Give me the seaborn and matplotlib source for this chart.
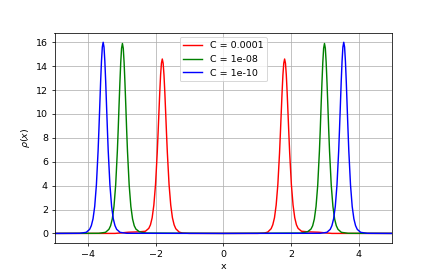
import matplotlib
matplotlib.use("Agg")
import matplotlib.pyplot as plt
import seaborn as sns
import pandas as pd

labels = ["C = 0.0001", "C = 1e-08", "C = 1e-10"]
colors = ["red", "green", "blue"]

red_x = [-5, -3.21, -3.01, -2.81, -2.51, -2.31, -2.21, -2.16, -2.11, -2.06, -2.01, -1.96, -1.935, -1.91,
         -1.885, -1.86, -1.835, -1.81, -1.785, -1.76, -1.735, -1.71, -1.685, -1.66, -1.61, -1.56, -1.51,
         -1.46, -1.41, -1.31, -1.21, -1.01,
         0, 1.01, 1.21, 1.31, 1.41, 1.46, 1.51, 1.56, 1.61, 1.66, 1.685, 1.71, 1.735, 1.76, 1.785, 1.81,
         1.835, 1.86, 1.885, 1.91, 1.935, 1.96, 2.01, 2.06, 2.11, 2.16, 2.21, 2.31, 2.51, 2.81, 3.01, 3.21, 5]
red_y = [0, 0, 0.05, 0.1, 0.13, 0.18, 0.42, 0.72, 1.31, 2.37, 4.1, 6.74, 8.37, 10.1,
         11.8, 13.27, 14.25, 14.6, 14.25, 13.27, 11.8, 10.1, 8.37, 6.74, 4.1, 2.37, 1.31,
         0.72, 0.39, 0.11, 0.03, 0,
         0, 0, 0.03, 0.11, 0.39, 0.72, 1.31, 2.37, 4.1, 6.74, 8.37, 10.1, 11.8, 13.27, 14.25, 14.6,
         14.25, 13.27, 11.8, 10.1, 8.37, 6.74, 4.1, 2.37, 1.31, 0.72, 0.42, 0.18, 0.13, 0.1, 0.05, 0, 0]

green_x = [-5, -3.69, -3.49, -3.39, -3.34, -3.29, -3.24, -3.19, -3.14, -3.115, -3.09, -3.065, -3.04, -3.015,
           -2.99, -2.965, -2.94, -2.915, -2.89, -2.865, -2.84, -2.79, -2.74, -2.69, -2.64, -2.59, -2.49,
           -2.39, -2.29,
           0, 2.29, 2.39, 2.49, 2.59, 2.64, 2.69, 2.74, 2.79, 2.84, 2.865, 2.89, 2.915, 2.94, 2.965, 2.99,
           3.015, 3.04, 3.065, 3.09, 3.115, 3.14, 3.19, 3.24, 3.29, 3.34, 3.39, 3.49, 3.69, 5]
green_y = [0, 0.01, 0.09, 0.34, 0.64, 1.21, 2.25, 4.04, 6.88, 8.68, 10.7, 12.6, 14.3, 15.5,
           15.9, 15.5, 14.3, 12.6, 10.7, 8.68, 6.88, 4.04, 2.25, 1.21, 0.64, 0.36, 0.14,
           0.08, 0.03,
           0, 0.03, 0.08, 0.14, 0.36, 0.64, 1.21, 2.25, 4.04, 6.88, 8.68, 10.7, 12.6, 14.3, 15.5, 15.9,
           15.5, 14.3, 12.6, 10.7, 8.68, 6.88, 4.04, 2.25, 1.21, 0.64, 0.34, 0.09, 0.01, 0]

blue_x = [-5, -4.26, -4.06, -3.96, -3.91, -3.86, -3.81, -3.76, -3.71, -3.685, -3.66, -3.635, -3.61, -3.585,
          -3.56, -3.535, -3.51, -3.485, -3.46, -3.435, -3.41, -3.36, -3.31, -3.26, -3.21, -3.16, -3.06, -2.86,
          0, 2.86, 3.06, 3.16, 3.21, 3.26, 3.31, 3.36, 3.41, 3.435, 3.46, 3.485, 3.51, 3.535, 3.56,
          3.585, 3.61, 3.635, 3.66, 3.685, 3.71, 3.76, 3.81, 3.86, 3.91, 3.96, 4.06, 4.26, 5]
blue_y = [0, 0.01, 0.09, 0.34, 0.65, 1.22, 2.26, 4.07, 6.9, 8.74, 10.7, 12.7, 14.4, 15.6,
          16.0, 15.6, 14.4, 12.7, 10.7, 8.74, 6.9, 4.07, 2.26, 1.22, 0.65, 0.34, 0.09, 0.01,
          0, 0.01, 0.09, 0.34, 0.65, 1.22, 2.26, 4.07, 6.9, 8.74, 10.7, 12.7, 14.4, 15.6, 16.0,
          15.6, 14.4, 12.7, 10.7, 8.74, 6.9, 4.07, 2.26, 1.22, 0.65, 0.34, 0.09, 0.01, 0]

frames = []
for lab, xs, ys in zip(labels, [red_x, green_x, blue_x], [red_y, green_y, blue_y]):
    frames.append(pd.DataFrame({"x": xs, "y": ys, "C": lab, "order": range(len(xs))}))
df = pd.concat(frames, ignore_index=True)

fig, ax = plt.subplots(figsize=(6.4, 4.008), dpi=68.125)
sns.lineplot(data=df, x="x", y="y", hue="C", hue_order=labels,
             palette=dict(zip(labels, colors)), sort=False, estimator=None,
             linewidth=1.5, ax=ax)
ax.set_xlim(-5, 5)
ax.set_xticks([-4, -2, 0, 2, 4])
ax.set_yticks([0, 2, 4, 6, 8, 10, 12, 14, 16])
ax.grid(True)
ax.set_xlabel("x")
ax.set_ylabel(r"$\rho(x)$")
handles, labs = ax.get_legend_handles_labels()
ax.legend(handles, labs, loc="upper center")
fig.savefig("out.png", dpi=68.125)
